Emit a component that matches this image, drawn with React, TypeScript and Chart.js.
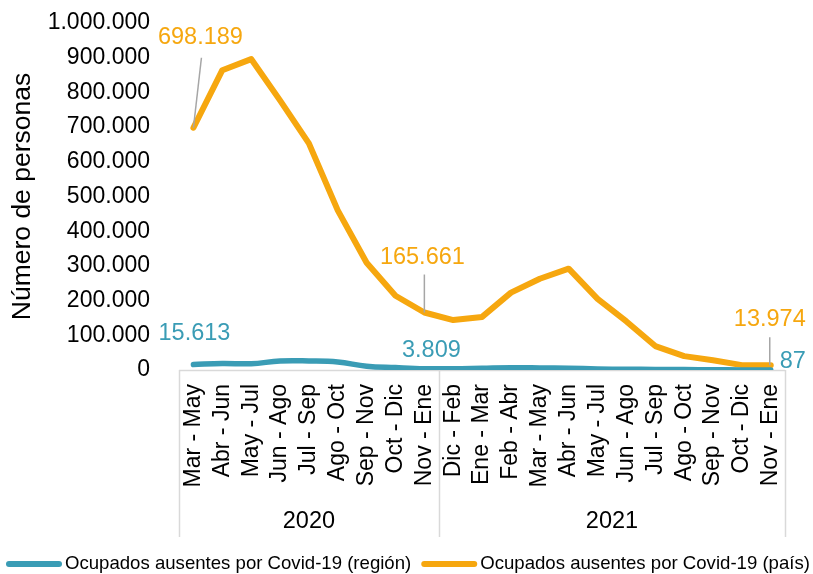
import React, { useEffect, useRef } from "react";
import { Chart, registerables } from "chart.js";

Chart.register(...registerables);

const categories = [
  "Mar - May", "Abr - Jun", "May - Jul", "Jun - Ago", "Jul - Sep", "Ago - Oct",
  "Sep - Nov", "Oct - Dic", "Nov - Ene",
  "Dic - Feb", "Ene - Mar", "Feb - Abr", "Mar - May", "Abr - Jun", "May - Jul",
  "Jun - Ago", "Jul - Sep", "Ago - Oct", "Sep - Nov", "Oct - Dic", "Nov - Ene",
];
const years = ["2020", "2021"];
const yearSpans = [9, 12];

const regionValues = [
  15613, 19000, 18000, 26000, 26000, 23000, 11000, 7000, 3809,
  3500, 5000, 6500, 6000, 5000, 3000, 2000, 1800, 1200, 700, 300, 87,
];
const paisValues = [
  698189, 864000, 896000, 777000, 653000, 460000, 309000, 214000, 165661,
  144000, 153000, 223000, 263000, 292000, 205000, 140000, 69000, 40000, 28000, 14000, 13974,
];
const seriesNames = [
  "Ocupados ausentes por Covid-19 (región)",
  "Ocupados ausentes por Covid-19 (país)",
];
const yTitle = "Número de personas";
const yMax = 1000000;
const yStep = 100000;

const TEAL = "#3A9CB5";
const ORANGE = "#F6A70F";
const FONT = '"Liberation Sans", Arial, sans-serif';

const fmt = (n: number) => String(Math.round(n)).replace(/\B(?=(\d{3})+(?!\d))/g, ".");

// label placements: dataset, index, text offset, leader line start offset
const labelSpecs = [
  { ds: 1, idx: 0, dx: 7, dy: -90, leader: [8, -70], end: [0, 0] },
  { ds: 1, idx: 8, dx: -2, dy: -55, leader: [0, -38], end: [0, 0] },
  { ds: 1, idx: 20, dx: -1, dy: -46, leader: [-1, -28], end: [-1, 0] },
  { ds: 0, idx: 0, dx: 1, dy: -31, leader: null, end: null },
  { ds: 0, idx: 8, dx: 7, dy: -18, leader: null, end: null },
  { ds: 0, idx: 20, dx: 22, dy: -8, leader: null, end: null },
];

const overlay = {
  id: "overlay",
  beforeDatasetsDraw(chart: any) {
    const { ctx, chartArea } = chart;
    const xs = chart.scales.x;
    ctx.save();
    ctx.strokeStyle = "#D9D9D9";
    ctx.lineWidth = 1.5;
    ctx.beginPath();
    ctx.moveTo(chartArea.left, chartArea.bottom + 0.5);
    ctx.lineTo(chartArea.right, chartArea.bottom + 0.5);
    let acc = 0;
    const bounds = [0];
    yearSpans.forEach((s) => { acc += s; bounds.push(acc); });
    bounds.forEach((b) => {
      const px = Math.round(xs.getPixelForValue(b - 0.5)) + 0.5;
      ctx.moveTo(px, chartArea.bottom);
      ctx.lineTo(px, xs.bottom);
    });
    ctx.stroke();
    ctx.fillStyle = "#000";
    ctx.font = `23.5px ${FONT}`;
    ctx.textAlign = "center";
    ctx.textBaseline = "middle";
    for (let i = 0; i < years.length; i++) {
      const a = xs.getPixelForValue(bounds[i] - 0.5);
      const b = xs.getPixelForValue(bounds[i + 1] - 0.5);
      ctx.fillText(years[i], (a + b) / 2, xs.bottom - 15);
    }
    ctx.restore();
  },
  afterDatasetsDraw(chart: any) {
    const { ctx } = chart;
    ctx.save();
    labelSpecs.forEach((s) => {
      const el = chart.getDatasetMeta(s.ds).data[s.idx];
      const px = el.x, py = el.y;
      const color = s.ds === 0 ? TEAL : ORANGE;
      if (s.leader && s.end) {
        ctx.strokeStyle = "#A6A6A6";
        ctx.lineWidth = 1.5;
        ctx.beginPath();
        ctx.moveTo(px + s.leader[0], py + s.leader[1]);
        ctx.lineTo(px + s.end[0], py + s.end[1]);
        ctx.stroke();
      }
      ctx.fillStyle = color;
      ctx.font = `23.5px ${FONT}`;
      ctx.textAlign = "center";
      ctx.textBaseline = "middle";
      const val = chart.data.datasets[s.ds].data[s.idx];
      ctx.fillText(fmt(val), px + s.dx, py + s.dy);
    });

    // legend
    const ly = chart.height - 10;
    let lx = 6;
    ctx.font = `18.6px ${FONT}`;
    ctx.textAlign = "left";
    ctx.textBaseline = "middle";
    [TEAL, ORANGE].forEach((c, i) => {
      ctx.strokeStyle = c;
      ctx.lineWidth = 6;
      ctx.lineCap = "round";
      ctx.beginPath();
      ctx.moveTo(lx + 3, ly);
      ctx.lineTo(lx + 53, ly);
      ctx.stroke();
      ctx.fillStyle = "#000";
      ctx.fillText(seriesNames[i], lx + 59, ly);
      lx += 59 + ctx.measureText(seriesNames[i]).width + 10;
    });
    ctx.restore();
  },
};

export default function App() {
  const ref = useRef<HTMLCanvasElement>(null);
  useEffect(() => {
    if (!ref.current) return;
    const chart = new Chart(ref.current, {
      type: "line",
      data: {
        labels: categories,
        datasets: [
          {
            label: seriesNames[0],
            data: regionValues,
            borderColor: TEAL,
            backgroundColor: TEAL,
            borderWidth: 5.5,
            pointRadius: 0,
            tension: 0.4,
            borderCapStyle: "round",
            borderJoinStyle: "round",
          },
          {
            label: seriesNames[1],
            data: paisValues,
            borderColor: ORANGE,
            backgroundColor: ORANGE,
            borderWidth: 6,
            pointRadius: 0,
            tension: 0,
            borderCapStyle: "round",
            borderJoinStyle: "round",
          },
        ],
      },
      options: {
        responsive: false,
        animation: false,
        devicePixelRatio: 1,
        layout: { padding: { top: 23, right: 27, bottom: 37, left: 0 } },
        plugins: {
          legend: { display: false },
          tooltip: { enabled: false },
        },
        scales: {
          x: {
            offset: true,
            grid: { display: false, drawTicks: false },
            border: { display: false },
            ticks: {
              autoSkip: false,
              minRotation: 90,
              maxRotation: 90,
              padding: 14,
              color: "#000",
              font: { family: FONT, size: 23 },
            },
            afterFit: (s: any) => { s.height = 167; },
          },
          y: {
            min: 0,
            max: yMax,
            grid: { display: false, drawTicks: true, tickLength: 29 },
            border: { display: false },
            ticks: {
              stepSize: yStep,
              padding: 0,
              color: "#000",
              font: { family: FONT, size: 23 },
              callback: (v: any) => fmt(Number(v)),
            },
            title: {
              display: true,
              text: yTitle,
              color: "#000",
              font: { family: FONT, size: 26.5 },
              padding: { top: 7, bottom: 0 },
            },
            afterFit: (s: any) => { s.width = 179; },
          },
        },
      },
      plugins: [overlay],
    });
    return () => chart.destroy();
  }, []);
  return (
    <canvas
      ref={ref}
      width={813}
      height={574}
      style={{ position: "fixed", left: 0, top: 0, display: "block", width: 813, height: 574 }}
    />
  );
}
